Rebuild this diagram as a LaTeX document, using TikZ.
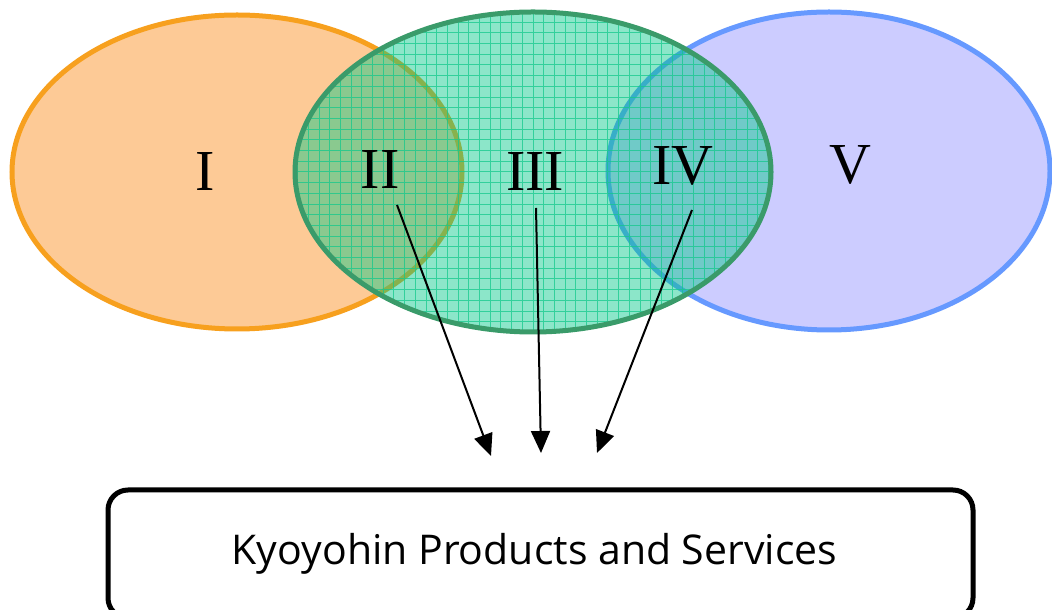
\documentclass[tikz,border=0pt]{standalone}
\usepackage{fontspec}
\setmainfont{Liberation Serif}
\newfontfamily\boxfont{Open Sans}
\usetikzlibrary{arrows.meta, shapes.geometric}

\definecolor{orangefill}{RGB}{253,202,150}
\definecolor{orangeline}{RGB}{247,160,30}
\definecolor{greenfill}{RGB}{0,200,135}
\definecolor{greenline}{RGB}{58,155,106}
\definecolor{gridgreen}{RGB}{20,200,140}
\definecolor{bluefill}{RGB}{204,204,255}
\definecolor{blueline}{RGB}{102,153,255}

\begin{document}
\begin{tikzpicture}[x=1pt, y=1pt]
        \tikzset{region/.style = {shape=ellipse, line width=5pt, inner sep=0pt}}
        \tikzset{numeral/.style = {font=\fontsize{58}{60}\selectfont}}
        \tikzset{edge/.style = {line width=2pt, -{Triangle[length=22pt, width=19pt]}}}
        \useasboundingbox (0,0) rectangle (1052,610);

        % the three sets
        \node[region, draw=orangeline, fill=orangefill,
              minimum width=450pt, minimum height=314pt] (A) at (237,438) {};
        \node[region, draw=blueline, fill=bluefill,
              minimum width=442pt, minimum height=318pt] (C) at (829,439) {};
        \node[region, draw=greenline, fill=greenfill, fill opacity=0.45,
              minimum width=476pt, minimum height=320pt,
              path picture={\draw[gridgreen, line width=1pt, draw opacity=0.75]
                (path picture bounding box.south west) grid[step=10.7pt]
                (path picture bounding box.north east);}] (B) at (533,438) {};

        \node[numeral] (I) at (205,438) {I};
        \node[numeral] (II) at (380,440) {II};
        \node[numeral] (III) at (535,438) {III};
        \node[numeral] (IV) at (683,444) {IV};
        \node[numeral] (V) at (850,445) {V};

        \node[draw, line width=5pt, rounded corners=20pt,
              minimum width=865pt, minimum height=128pt,
              font=\boxfont\fontsize{41}{46}\selectfont] (kyo) at (540.5,56) {Kyoyohin Products and Services\hspace*{12pt}};

        \coordinate (s2) at (397,405);
        \coordinate (s3) at (536,402);
        \coordinate (s4) at (692,400);
        \coordinate (e2) at (491,154);
        \coordinate (e3) at (541,157);
        \coordinate (e4) at (597,157);

        \draw[edge] (s2) to (e2);
        \draw[edge] (s3) to (e3);
        \draw[edge] (s4) to (e4);
\end{tikzpicture}
\end{document}
